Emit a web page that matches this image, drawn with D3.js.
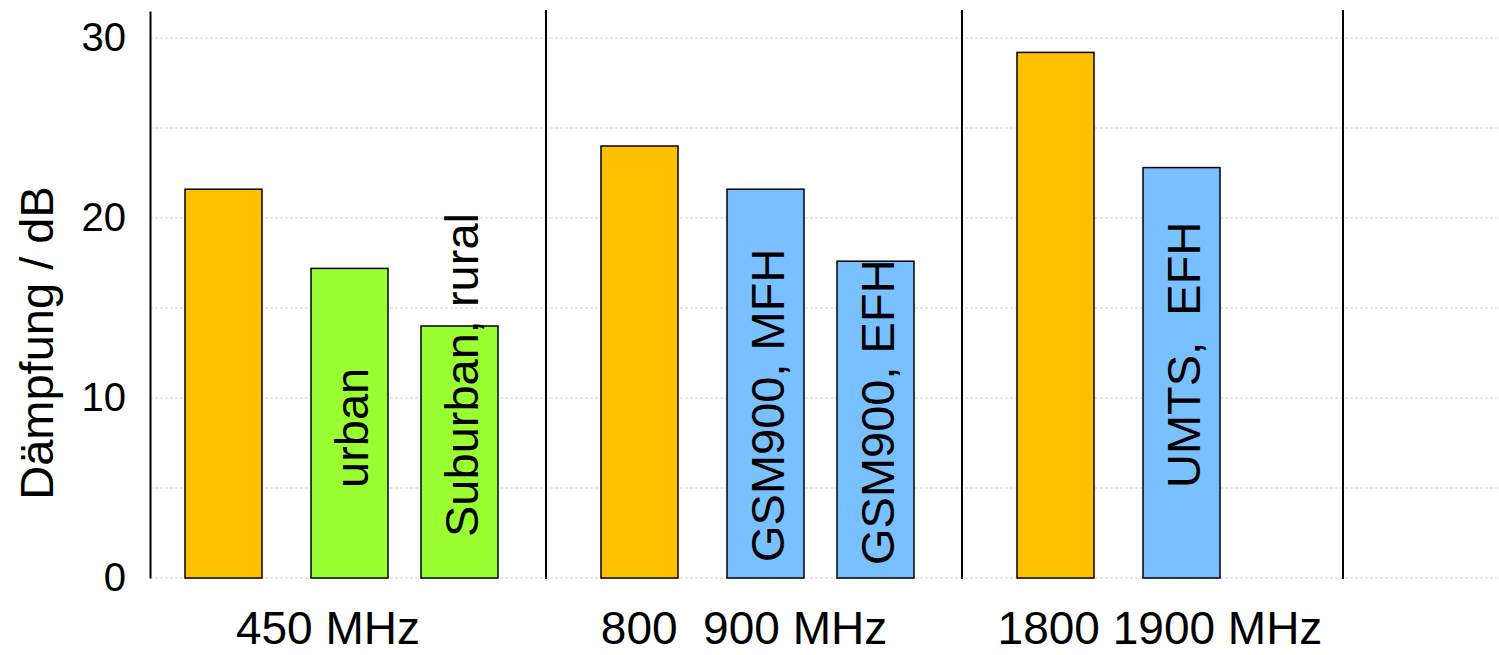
<!DOCTYPE html>
<html>
<head>
<meta charset="utf-8">
<script src="https://cdn.jsdelivr.net/npm/d3@7/dist/d3.min.js"></script>
<style>
  html, body { margin: 0; padding: 0; background: #fff; }
  svg { display: block; font-family: "Liberation Sans", Arial, sans-serif; }
</style>
</head>
<body>
<svg id="chart" width="1499" height="655"></svg>
<script>
// Frequency groups shown along the bottom
const groups = ["450 MHz", "800  900 MHz", "1800 1900 MHz"];
// Reference attenuation per group (orange bars), dB
const refValues = [21.6, 24.0, 29.2];
// Measured / scenario bars per group
const measuredLabels = [["urban", "Suburban, rural"], ["GSM900, MFH", "GSM900, EFH"], ["UMTS,  EFH"]];
const measuredValues = [[17.2, 14.0], [21.6, 17.6], [22.8]];
const measuredKinds = ["environment", "building", "building"];
// Value axis
const yTicks = [0, 10, 20, 30];
const yGrid = [0, 5, 10, 15, 20, 25, 30];
const yTitle = "Dämpfung / dB";

// ---- layout ----
const W = 1499, H = 655;
const axisX = 150;
const colors = { ref: "#FFC000", environment: "#99FF33", building: "#78C0FF" };
// how far above the baseline each in-bar label starts (px)
const labelLift = [[90, 41], [16, 13], [90]];

const svg = d3.select("#chart");

const y = d3.scaleLinear().domain([0, 31.5]).range([578, 11]);
const xGroup = d3.scaleBand().domain(groups).range([130, 1378]);
const xRef = d3.scaleBand().domain(["ref"]).range([55, 132]);
const xMeas = d3.scaleBand().domain([0, 1]).range([181, 368]).paddingInner(0.3);

// dashed horizontal gridlines
svg.append("g").selectAll("line").data(yGrid).join("line")
  .attr("x1", axisX).attr("x2", W)
  .attr("y1", d => y(d)).attr("y2", d => y(d))
  .attr("stroke", "#cfcfcf").attr("stroke-width", 1)
  .attr("stroke-dasharray", "3,2");

// group divider lines
const dividers = groups.slice(1).map(g => xGroup(g)).concat([xGroup.range()[1] - 35]);
svg.append("g").selectAll("line").data(dividers).join("line")
  .attr("x1", d => d).attr("x2", d => d)
  .attr("y1", y(0) + 1).attr("y2", 10)
  .attr("stroke", "#000").attr("stroke-width", 2);

// value axis
const yAxis = svg.append("g")
  .attr("transform", `translate(${axisX},0)`)
  .call(d3.axisLeft(y).tickValues(yTicks).tickSizeInner(0).tickSizeOuter(0).tickPadding(24));
yAxis.select(".domain").attr("stroke", "#000").attr("stroke-width", 2);
yAxis.selectAll(".tick line").remove();
yAxis.selectAll(".tick text")
  .attr("font-family", "Liberation Sans, Arial, sans-serif")
  .attr("font-size", 40).attr("fill", "#000");

svg.append("text")
  .attr("transform", `translate(53,${(y(0) + y(30)) / 2 + 35}) rotate(-90)`)
  .attr("text-anchor", "middle")
  .attr("font-size", 47).attr("fill", "#000")
  .text(yTitle);

// bars
groups.forEach((g, gi) => {
  const gx = xGroup(g);
  svg.append("rect")
    .attr("x", gx + xRef("ref")).attr("width", xRef.bandwidth())
    .attr("y", y(refValues[gi])).attr("height", y(0) - y(refValues[gi]))
    .attr("fill", colors.ref).attr("stroke", "#000").attr("stroke-width", 1.5);

  measuredValues[gi].forEach((v, i) => {
    const bx = gx + xMeas(i);
    svg.append("rect")
      .attr("x", bx).attr("width", xMeas.bandwidth())
      .attr("y", y(v)).attr("height", y(0) - y(v))
      .attr("fill", colors[measuredKinds[gi]]).attr("stroke", "#000").attr("stroke-width", 1.5);
  });

  measuredValues[gi].forEach((v, i) => {
    const cx = gx + xMeas(i) + xMeas.bandwidth() / 2;
    svg.append("text")
      .attr("transform", `translate(${cx},${y(0) - labelLift[gi][i]}) rotate(-90)`)
      .attr("dy", "0.39em")
      .attr("text-anchor", "start")
      .attr("font-size", 47).attr("fill", "#000")
      .style("white-space", "pre")
      .text(measuredLabels[gi][i]);
  });

  svg.append("text")
    .attr("x", gx + xGroup.bandwidth() / 2 - 10).attr("y", 644)
    .attr("text-anchor", "middle")
    .attr("font-size", 46).attr("fill", "#000")
    .style("white-space", "pre")
    .text(g);
});
</script>
</body>
</html>
